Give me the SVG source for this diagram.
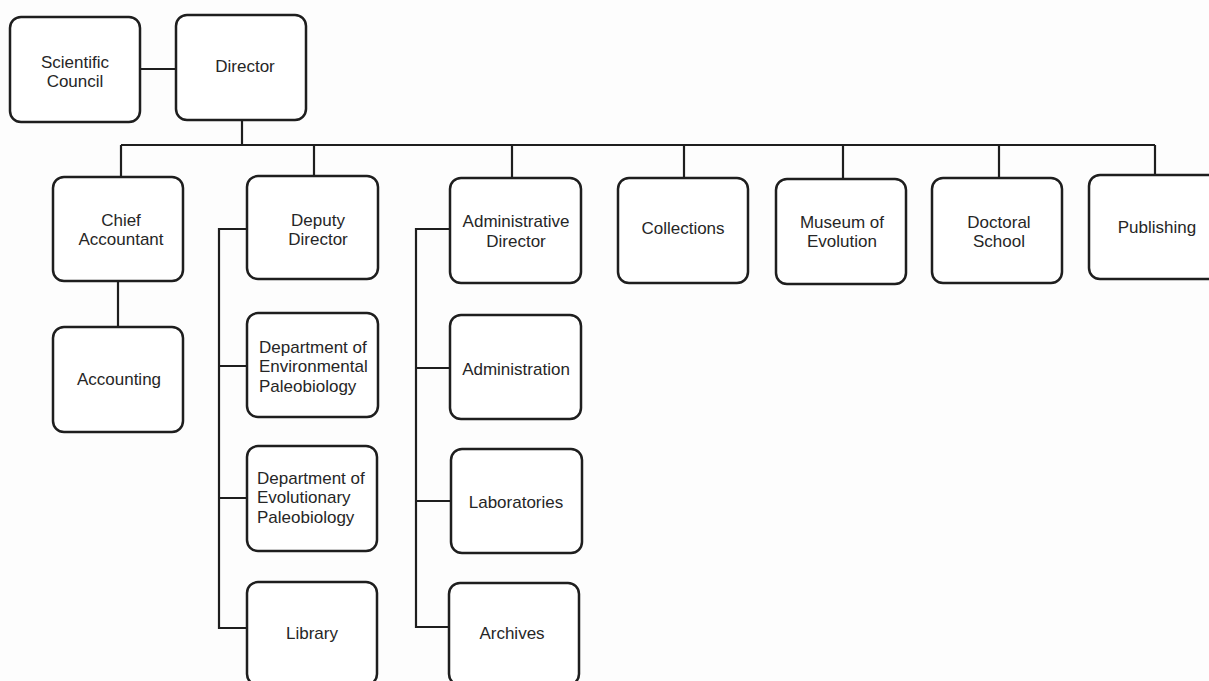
<svg xmlns="http://www.w3.org/2000/svg" width="1209" height="681" viewBox="0 0 1209 681">
<style>
.box{fill:#ffffff;stroke:#1e1e1e;stroke-width:2.5}
.ln{fill:none;stroke:#1e1e1e;stroke-width:2.2}
text{font-family:"Liberation Sans",Arial,sans-serif;font-size:17px;fill:#262626}
.c{text-anchor:middle}
</style>
<rect width="1209" height="681" fill="#fdfdfd"/>
<g id="connectors">
<path class="ln" d="M140,69H176"/>
<path class="ln" d="M242,120V145"/>
<path class="ln" d="M121,145H1155"/>
<path class="ln" d="M121,145V177M314,145V176M512,145V178M684,145V178M843,145V179M999,145V178M1155,145V175"/>
<path class="ln" d="M118,281V327"/>
<path class="ln" d="M247,229H219V628H247M219,366H247M219,498H247"/>
<path class="ln" d="M450,229H416V627H449M416,368H450M416,501H451"/>
</g>
<g id="scientific-council"><rect class="box" x="10" y="17" width="130" height="105" rx="11"/><text class="c" x="75" y="68">Scientific</text><text class="c" x="75" y="87">Council</text></g>
<g id="director"><rect class="box" x="176" y="15" width="130" height="105" rx="11"/><text class="c" x="245" y="72">Director</text></g>
<g id="chief-accountant"><rect class="box" x="53" y="177" width="130" height="104" rx="11"/><text class="c" x="121" y="226">Chief</text><text class="c" x="121" y="245">Accountant</text></g>
<g id="accounting"><rect class="box" x="53" y="327" width="130" height="105" rx="11"/><text class="c" x="119" y="385">Accounting</text></g>
<g id="deputy-director"><rect class="box" x="247" y="176" width="131" height="103" rx="11"/><text class="c" x="318" y="226">Deputy</text><text class="c" x="318" y="245">Director</text></g>
<g id="dept-environmental"><rect class="box" x="247" y="313" width="131" height="104" rx="11"/><text x="259" y="353">Department of</text><text x="259" y="372">Environmental</text><text x="259" y="392">Paleobiology</text></g>
<g id="dept-evolutionary"><rect class="box" x="247" y="446" width="130" height="105" rx="11"/><text x="257" y="484">Department of</text><text x="257" y="503">Evolutionary</text><text x="257" y="523">Paleobiology</text></g>
<g id="library"><rect class="box" x="247" y="582" width="130" height="103" rx="11"/><text class="c" x="312" y="639">Library</text></g>
<g id="administrative-director"><rect class="box" x="450" y="178" width="131" height="105" rx="11"/><text class="c" x="516" y="227">Administrative</text><text class="c" x="516" y="247">Director</text></g>
<g id="administration"><rect class="box" x="450" y="315" width="131" height="104" rx="11"/><text class="c" x="516" y="375">Administration</text></g>
<g id="laboratories"><rect class="box" x="451" y="449" width="131" height="104" rx="11"/><text class="c" x="516" y="508">Laboratories</text></g>
<g id="archives"><rect class="box" x="449" y="583" width="130" height="102" rx="11"/><text class="c" x="512" y="639">Archives</text></g>
<g id="collections"><rect class="box" x="618" y="178" width="130" height="105" rx="11"/><text class="c" x="683" y="234">Collections</text></g>
<g id="museum-of-evolution"><rect class="box" x="776" y="179" width="130" height="105" rx="11"/><text class="c" x="842" y="228">Museum of</text><text class="c" x="842" y="247">Evolution</text></g>
<g id="doctoral-school"><rect class="box" x="932" y="178" width="130" height="105" rx="11"/><text class="c" x="999" y="228">Doctoral</text><text class="c" x="999" y="247">School</text></g>
<g id="publishing"><rect class="box" x="1089" y="175" width="140" height="104" rx="11"/><text class="c" x="1157" y="233">Publishing</text></g>
</svg>
